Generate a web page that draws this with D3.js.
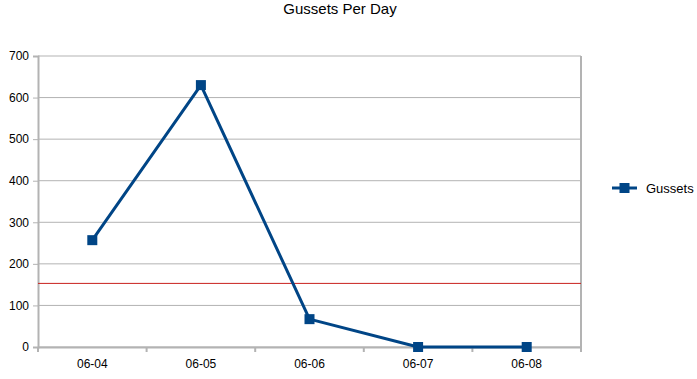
<!DOCTYPE html>
<html>
<head>
<meta charset="utf-8">
<script src="https://cdn.jsdelivr.net/npm/d3@7"></script>
<style>
  body { margin: 0; background: #fff; }
  svg { font-family: "Liberation Sans", Arial, sans-serif; }
</style>
</head>
<body>
<svg id="chart" width="697" height="379"></svg>
<script>
var categories = ['06-04', '06-05', '06-06', '06-07', '06-08'];
var gussets = [257, 630, 67, 0, 0];
var yTicks = [0, 100, 200, 300, 400, 500, 600, 700];
var refValue = 153;
var seriesName = 'Gussets';
var title = 'Gussets Per Day';

var svg = d3.select('#chart');
var plotLeft = 38, plotRight = 581, plotTop = 56, plotBottom = 347;
var blue = '#004586', grid = '#b3b3b3';

var x = d3.scaleBand().domain(categories).range([plotLeft, plotRight]);
var y = d3.scaleLinear().domain([0, 700]).range([plotBottom, plotTop]);

// gridlines
svg.append('g')
  .selectAll('line')
  .data(yTicks)
  .enter().append('line')
  .attr('x1', plotLeft).attr('x2', plotRight)
  .attr('y1', function(d) { return y(d); })
  .attr('y2', function(d) { return y(d); })
  .attr('stroke', grid).attr('stroke-width', 1);

// y axis
var yAxis = svg.append('g')
  .attr('transform', 'translate(' + plotLeft + ',0)')
  .call(d3.axisLeft(y).tickValues(yTicks).tickSize(5).tickPadding(4));
yAxis.select('.domain').attr('stroke', grid).attr('stroke-width', 2);
yAxis.selectAll('.tick line').attr('stroke', grid);
yAxis.selectAll('text').attr('font-size', 12).attr('fill', '#000')
  .attr('font-family', '"Liberation Sans", Arial, sans-serif');

// right border
svg.append('line')
  .attr('x1', plotRight).attr('x2', plotRight).attr('y1', plotTop).attr('y2', plotBottom)
  .attr('stroke', grid).attr('stroke-width', 2);

// x axis
var xAxis = svg.append('g')
  .attr('transform', 'translate(0,' + plotBottom + ')')
  .call(d3.axisBottom(x).tickSize(0).tickPadding(12));
xAxis.select('.domain').attr('stroke', grid).attr('stroke-width', 2);
xAxis.selectAll('text').attr('font-size', 12).attr('fill', '#000')
  .attr('font-family', '"Liberation Sans", Arial, sans-serif');

// tick marks on band edges
var edges = categories.map(function(c) { return x(c); }).concat([plotRight]);
svg.append('g')
  .selectAll('line')
  .data(edges)
  .enter().append('line')
  .attr('x1', function(d) { return d; }).attr('x2', function(d) { return d; })
  .attr('y1', plotBottom).attr('y2', plotBottom + 5)
  .attr('stroke', grid).attr('stroke-width', 2);

// reference line
svg.append('line')
  .attr('x1', plotLeft).attr('x2', plotRight)
  .attr('y1', y(refValue)).attr('y2', y(refValue))
  .attr('stroke', '#c9211e').attr('stroke-width', 1);

// series
var cx = function(d, i) { return x(categories[i]) + x.bandwidth() / 2; };
var line = d3.line()
  .x(cx)
  .y(function(d) { return y(d); });

svg.append('path')
  .datum(gussets)
  .attr('d', line)
  .attr('fill', 'none')
  .attr('stroke', blue)
  .attr('stroke-width', 3)
  .attr('stroke-linejoin', 'round');

svg.append('g')
  .selectAll('rect')
  .data(gussets)
  .enter().append('rect')
  .attr('x', function(d, i) { return cx(d, i) - 5; })
  .attr('y', function(d) { return y(d) - 5; })
  .attr('width', 10).attr('height', 10)
  .attr('fill', blue);

// title
svg.append('text')
  .attr('x', 340).attr('y', 14)
  .attr('text-anchor', 'middle')
  .attr('font-size', 15)
  .text(title);

// legend
var lg = svg.append('g').attr('transform', 'translate(612,188)');
lg.append('line').attr('x1', 0).attr('x2', 25).attr('y1', 0).attr('y2', 0)
  .attr('stroke', blue).attr('stroke-width', 3);
lg.append('rect').attr('x', 7.5).attr('y', -5).attr('width', 10).attr('height', 10)
  .attr('fill', blue);
lg.append('text').attr('x', 34).attr('y', 4.5).attr('font-size', 13).text(seriesName);
</script>
</body>
</html>
